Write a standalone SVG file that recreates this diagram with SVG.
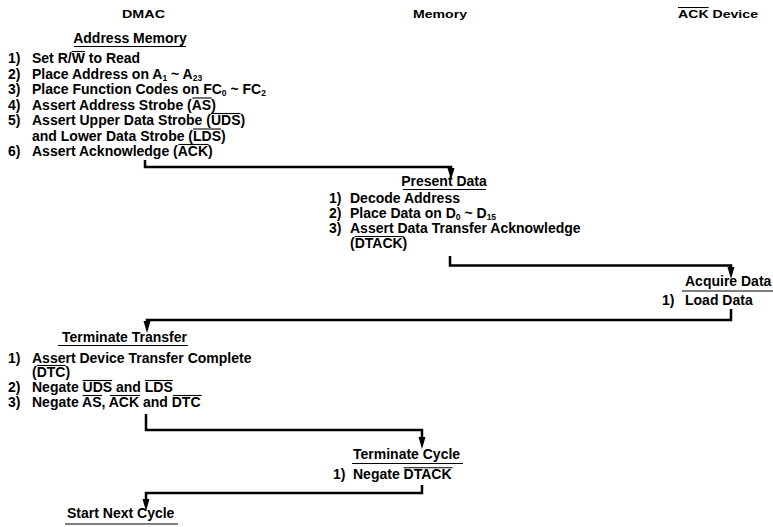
<svg xmlns="http://www.w3.org/2000/svg" width="773" height="527" viewBox="0 0 773 527">
<style>
  text { font-family: "Liberation Sans", Arial, sans-serif; font-weight: bold; font-size: 14px; fill: #000; }
  .hdr { font-size: 10.5px; font-weight: 900; }
  .sub { font-size: 8.5px; }
  .ov { text-decoration: overline; }
  .ul { stroke: #000; stroke-width: 1.2; fill: none; }
  .bar { stroke: #000; stroke-width: 1.1; fill: none; }
  .conn { stroke: #000; stroke-width: 2.5; fill: none; stroke-linejoin: miter; }
</style>
<defs>
  <marker id="arr" markerUnits="userSpaceOnUse" markerWidth="12" markerHeight="8" refX="0" refY="3.5" orient="auto">
    <path d="M0,0 L12,3.5 L0,7 Z" fill="#000"/>
  </marker>
</defs>
<rect width="773" height="527" fill="#fff"/>

<g id="hdr-dmac"><text class="hdr" x="122" y="18" textLength="43" lengthAdjust="spacingAndGlyphs">DMAC</text></g>
<g id="hdr-memory"><text class="hdr" x="413" y="18" textLength="54" lengthAdjust="spacingAndGlyphs">Memory</text></g>
<g id="hdr-ack"><text class="hdr" x="678" y="18" textLength="80" lengthAdjust="spacingAndGlyphs"><tspan class="ov">ACK</tspan> Device</text></g>

<g id="address-memory">
  <text x="130" y="43" text-anchor="middle">Address Memory</text>
  <line class="ul" x1="74" y1="46.5" x2="186" y2="46.5"/>
  <text x="8" y="63">1)</text><text x="32" y="63">Set R/W to Read</text>
  <line class="bar" x1="71.7" y1="51.5" x2="84.9" y2="51.5"/>
  <text x="8" y="78.5">2)</text><text x="32" y="78.5">Place Address on A<tspan class="sub" dy="2">1</tspan><tspan dy="-2"> ~ A</tspan><tspan class="sub" dy="2">23</tspan></text>
  <text x="8" y="94">3)</text><text x="32" y="94">Place Function Codes on FC<tspan class="sub" dy="2">0</tspan><tspan dy="-2"> ~ FC</tspan><tspan class="sub" dy="2">2</tspan></text>
  <text x="8" y="109.5">4)</text><text x="32" y="109.5">Assert Address Strobe (AS)</text>
  <line class="bar" x1="192.3" y1="98" x2="211.7" y2="98"/>
  <text x="8" y="125">5)</text><text x="32" y="125">Assert Upper Data Strobe (UDS)</text>
  <line class="bar" x1="210.9" y1="113.5" x2="240.5" y2="113.5"/>
  <text x="32" y="140.5">and Lower Data Strobe (LDS)</text>
  <line class="bar" x1="193" y1="129" x2="221" y2="129"/>
  <text x="8" y="156">6)</text><text x="32" y="156">Assert Acknowledge (ACK)</text>
  <line class="bar" x1="178.3" y1="144.5" x2="208.6" y2="144.5"/>
</g>

<g id="present-data">
  <text x="444" y="186" text-anchor="middle">Present Data</text>
  <line class="ul" x1="403" y1="189.5" x2="486" y2="189.5"/>
  <text x="329" y="203">1)</text><text x="350" y="203">Decode Address</text>
  <text x="329" y="218">2)</text><text x="350" y="218">Place Data on D<tspan class="sub" dy="2">0</tspan><tspan dy="-2"> ~ D</tspan><tspan class="sub" dy="2">15</tspan></text>
  <text x="329" y="233">3)</text><text x="350" y="233">Assert Data Transfer Acknowledge</text>
  <text x="350" y="248">(DTACK)</text>
  <line class="bar" x1="354.7" y1="236.5" x2="403.7" y2="236.5"/>
</g>

<g id="acquire-data">
  <text x="685" y="286">Acquire Data</text>
  <line class="ul" x1="682" y1="291" x2="773" y2="291"/>
  <text x="662" y="305">1)</text><text x="685" y="305">Load Data</text>
</g>

<g id="terminate-transfer">
  <text x="62" y="342">Terminate Transfer</text>
  <line class="ul" x1="58" y1="345.5" x2="188" y2="345.5"/>
  <text x="8" y="363">1)</text><text x="32" y="363">Assert Device Transfer Complete</text>
  <text x="32" y="377">(DTC)</text>
  <line class="bar" x1="36.7" y1="365.5" x2="65.5" y2="365.5"/>
  <text x="8" y="392">2)</text><text x="32" y="392">Negate UDS and LDS</text>
  <line class="bar" x1="82.6" y1="380.5" x2="112.2" y2="380.5"/>
  <line class="bar" x1="144.9" y1="380.5" x2="172.9" y2="380.5"/>
  <text x="8" y="407">3)</text><text x="32" y="407">Negate AS, ACK and DTC</text>
  <line class="bar" x1="82.6" y1="395.5" x2="102" y2="395.5"/>
  <line class="bar" x1="109.8" y1="395.5" x2="140.1" y2="395.5"/>
  <line class="bar" x1="172.8" y1="395.5" x2="201.6" y2="395.5"/>
</g>

<g id="terminate-cycle">
  <text x="353" y="459">Terminate Cycle</text>
  <line class="ul" x1="352" y1="463.5" x2="463" y2="463.5"/>
  <text x="333" y="479">1)</text><text x="353" y="479">Negate DTACK</text>
  <line class="bar" x1="403.6" y1="467.8" x2="452.6" y2="467.8"/>
</g>

<g id="start-next-cycle">
  <text x="67" y="518">Start Next Cycle</text>
  <line class="ul" x1="65" y1="524" x2="178" y2="524"/>
</g>

<g id="connectors">
  <path class="conn" d="M145,160 V167 H451 V168" marker-end="url(#arr)"/>
  <path class="conn" d="M450,256 V265.5 H731 V267" marker-end="url(#arr)"/>
  <path class="conn" d="M731,309 V320 H147 V321" marker-end="url(#arr)"/>
  <path class="conn" d="M146,414 V430 H422 V437" marker-end="url(#arr)"/>
  <path class="conn" d="M422,485 V493 H146 V499" marker-end="url(#arr)"/>
</g>
</svg>
